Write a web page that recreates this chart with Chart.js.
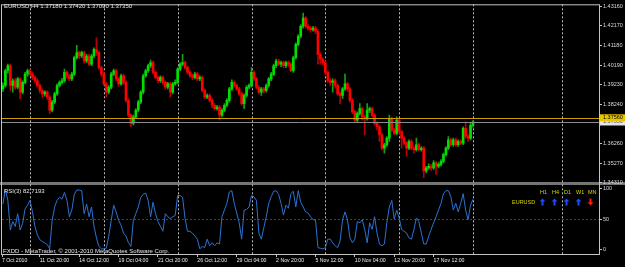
<!DOCTYPE html>
<html>
<head>
<meta charset="utf-8">
<script src="https://cdn.jsdelivr.net/npm/chart.js@4.4.0/dist/chart.umd.min.js"></script>
<style>
  html, body { margin: 0; padding: 0; background: #000; }
  #chart { display: block; }
</style>
</head>
<body>
<canvas id="chart" width="625" height="267"></canvas>
<script>
// EURUSD H4 candles, oldest first
const opens = [
  1.3901, 1.3918, 1.3992, 1.4017, 1.3918, 1.3942, 1.3909, 1.3951, 1.3885, 1.3934,
  1.3975, 1.3992, 1.3975, 1.3959, 1.3942, 1.3918, 1.3893, 1.3876, 1.3885, 1.3860,
  1.3794, 1.3835, 1.3876, 1.3918, 1.3934, 1.3942, 1.3984, 1.3967, 1.3951, 1.3975,
  1.4058, 1.4083, 1.4066, 1.4083, 1.4041, 1.4066, 1.4025, 1.4066, 1.4099, 1.4083,
  1.4008, 1.3975, 1.3926, 1.3885, 1.3909, 1.3975, 1.3992, 1.3951, 1.3926, 1.3967,
  1.3934, 1.3843, 1.3769, 1.3728, 1.3761, 1.3794, 1.3835, 1.3885, 1.3967, 1.3992,
  1.4017, 1.4033, 1.3984, 1.3959, 1.3942, 1.3959, 1.3934, 1.3909, 1.3926, 1.3885,
  1.3926, 1.3934, 1.4000, 1.4025, 1.4033, 1.4008, 1.3984, 1.3967, 1.3959, 1.3975,
  1.3951, 1.3959, 1.3893, 1.3860, 1.3868, 1.3843, 1.3819, 1.3802, 1.3810, 1.3769,
  1.3794, 1.3819, 1.3843, 1.3901, 1.3934, 1.3918, 1.3901, 1.3876, 1.3827, 1.3868,
  1.3909, 1.3918, 1.3984, 1.3951, 1.3909, 1.3885, 1.3901, 1.3893, 1.3918, 1.3951,
  1.3975, 1.4017, 1.4041, 1.4025, 1.4033, 1.4017, 1.4033, 1.4025, 1.3992, 1.4058,
  1.4124, 1.4165, 1.4215, 1.4256, 1.4215, 1.4206, 1.4198, 1.4206, 1.4190, 1.4074,
  1.4050, 1.4033, 1.3984, 1.3942, 1.3934, 1.3942, 1.3918, 1.3876, 1.3868, 1.3901,
  1.3926, 1.3901, 1.3843, 1.3786, 1.3744, 1.3777, 1.3802, 1.3761, 1.3753, 1.3794,
  1.3802, 1.3769, 1.3728, 1.3711, 1.3670, 1.3604, 1.3621, 1.3654, 1.3753, 1.3695,
  1.3678, 1.3744, 1.3687, 1.3654, 1.3629, 1.3604, 1.3637, 1.3604, 1.3596, 1.3621,
  1.3596, 1.3604, 1.3489, 1.3505, 1.3513, 1.3505, 1.3530, 1.3513, 1.3522, 1.3538,
  1.3571, 1.3604, 1.3645, 1.3621, 1.3645, 1.3621, 1.3637, 1.3629, 1.3703, 1.3662,
  1.3654, 1.37180
];
const highs = [
  1.3931, 1.4000, 1.4025, 1.4025, 1.3951, 1.3954, 1.3959, 1.3957, 1.3942, 1.3984,
  1.4000, 1.4000, 1.3984, 1.3967, 1.3951, 1.3926, 1.3901, 1.3893, 1.3891, 1.3868,
  1.3843, 1.3885, 1.3926, 1.3942, 1.3954, 1.4000, 1.3992, 1.3975, 1.3984, 1.4066,
  1.4119, 1.4091, 1.4091, 1.4091, 1.4074, 1.4074, 1.4074, 1.4107, 1.4157, 1.4091,
  1.4017, 1.3984, 1.3934, 1.3918, 1.3984, 1.4000, 1.4000, 1.3959, 1.3975, 1.3975,
  1.3942, 1.3852, 1.3777, 1.3769, 1.3802, 1.3843, 1.3893, 1.3975, 1.4000, 1.4025,
  1.4046, 1.4041, 1.3992, 1.3967, 1.3967, 1.3967, 1.3942, 1.3934, 1.3934, 1.3934,
  1.3947, 1.4008, 1.4033, 1.4074, 1.4041, 1.4017, 1.3992, 1.3975, 1.3984, 1.3984,
  1.3967, 1.3967, 1.3901, 1.3876, 1.3876, 1.3852, 1.3827, 1.3819, 1.3819, 1.3802,
  1.3827, 1.3852, 1.3909, 1.3947, 1.3942, 1.3926, 1.3909, 1.3885, 1.3876, 1.3918,
  1.3926, 1.4008, 1.3992, 1.3959, 1.3918, 1.3909, 1.3909, 1.3926, 1.3959, 1.3984,
  1.4025, 1.4050, 1.4050, 1.4041, 1.4041, 1.4041, 1.4041, 1.4033, 1.4066, 1.4132,
  1.4173, 1.4223, 1.4281, 1.4264, 1.4223, 1.4215, 1.4215, 1.4215, 1.4198, 1.4083,
  1.4058, 1.4041, 1.3992, 1.3951, 1.3951, 1.3951, 1.3926, 1.3885, 1.3909, 1.3975,
  1.3934, 1.3909, 1.3852, 1.3794, 1.3786, 1.3827, 1.3810, 1.3769, 1.3827, 1.3810,
  1.3810, 1.3777, 1.3736, 1.3720, 1.3678, 1.3629, 1.3662, 1.3769, 1.3761, 1.3703,
  1.3761, 1.3753, 1.3695, 1.3662, 1.3637, 1.3645, 1.3645, 1.3612, 1.3654, 1.3629,
  1.3612, 1.3612, 1.3513, 1.3525, 1.3522, 1.3541, 1.3538, 1.3531, 1.3546, 1.3579,
  1.3612, 1.3662, 1.3654, 1.3654, 1.3654, 1.3645, 1.3645, 1.3711, 1.3736, 1.3670,
  1.3728, 1.37420
];
const lows = [
  1.3888, 1.3909, 1.3980, 1.3893, 1.3885, 1.3898, 1.3901, 1.3852, 1.3876, 1.3926,
  1.3964, 1.3967, 1.3947, 1.3931, 1.3909, 1.3881, 1.3860, 1.3865, 1.3848, 1.3777,
  1.3786, 1.3827, 1.3868, 1.3909, 1.3926, 1.3934, 1.3954, 1.3941, 1.3942, 1.3967,
  1.4050, 1.4053, 1.4058, 1.4030, 1.4033, 1.4017, 1.4017, 1.4058, 1.4069, 1.4000,
  1.3964, 1.3918, 1.3860, 1.3876, 1.3901, 1.3967, 1.3941, 1.3914, 1.3918, 1.3924,
  1.3835, 1.3761, 1.3711, 1.3720, 1.3753, 1.3786, 1.3827, 1.3876, 1.3959, 1.3984,
  1.4008, 1.3975, 1.3951, 1.3931, 1.3934, 1.3924, 1.3898, 1.3901, 1.3860, 1.3876,
  1.3918, 1.3926, 1.3992, 1.4017, 1.4000, 1.3975, 1.3959, 1.3947, 1.3951, 1.3942,
  1.3942, 1.3885, 1.3852, 1.3852, 1.3835, 1.3805, 1.3794, 1.3794, 1.3744, 1.3761,
  1.3786, 1.3810, 1.3835, 1.3893, 1.3909, 1.3893, 1.3868, 1.3819, 1.3802, 1.3860,
  1.3901, 1.3909, 1.3942, 1.3901, 1.3876, 1.3868, 1.3881, 1.3885, 1.3909, 1.3942,
  1.3967, 1.4008, 1.4017, 1.4013, 1.4007, 1.4008, 1.4013, 1.3987, 1.3984, 1.4050,
  1.4116, 1.4157, 1.4206, 1.4206, 1.4195, 1.4185, 1.4190, 1.4178, 1.4025, 1.4025,
  1.4023, 1.3975, 1.3934, 1.3918, 1.3885, 1.3904, 1.3868, 1.3827, 1.3852, 1.3893,
  1.3888, 1.3835, 1.3777, 1.3736, 1.3736, 1.3769, 1.3744, 1.3670, 1.3744, 1.3782,
  1.3761, 1.3720, 1.3695, 1.3637, 1.3596, 1.3579, 1.3612, 1.3637, 1.3687, 1.3670,
  1.3670, 1.3678, 1.3604, 1.3621, 1.3563, 1.3596, 1.3596, 1.3579, 1.3588, 1.3588,
  1.3588, 1.3456, 1.3480, 1.3497, 1.3492, 1.3497, 1.3472, 1.3505, 1.3513, 1.3530,
  1.3563, 1.3596, 1.3612, 1.3612, 1.3612, 1.3612, 1.3621, 1.3621, 1.3654, 1.3637,
  1.3645, 1.37090
];
const closes = [
  1.3918, 1.3992, 1.4017, 1.3918, 1.3942, 1.3909, 1.3951, 1.3885, 1.3934, 1.3975,
  1.3992, 1.3975, 1.3959, 1.3942, 1.3918, 1.3893, 1.3876, 1.3885, 1.3860, 1.3794,
  1.3835, 1.3876, 1.3918, 1.3934, 1.3942, 1.3984, 1.3967, 1.3951, 1.3975, 1.4058,
  1.4083, 1.4066, 1.4083, 1.4041, 1.4066, 1.4025, 1.4066, 1.4099, 1.4083, 1.4008,
  1.3975, 1.3926, 1.3885, 1.3909, 1.3975, 1.3992, 1.3951, 1.3926, 1.3967, 1.3934,
  1.3843, 1.3769, 1.3728, 1.3761, 1.3794, 1.3835, 1.3885, 1.3967, 1.3992, 1.4017,
  1.4033, 1.3984, 1.3959, 1.3942, 1.3959, 1.3934, 1.3909, 1.3926, 1.3885, 1.3926,
  1.3934, 1.4000, 1.4025, 1.4033, 1.4008, 1.3984, 1.3967, 1.3959, 1.3975, 1.3951,
  1.3959, 1.3893, 1.3860, 1.3868, 1.3843, 1.3819, 1.3802, 1.3810, 1.3769, 1.3794,
  1.3819, 1.3843, 1.3901, 1.3934, 1.3918, 1.3901, 1.3876, 1.3827, 1.3868, 1.3909,
  1.3918, 1.3984, 1.3951, 1.3909, 1.3885, 1.3901, 1.3893, 1.3918, 1.3951, 1.3975,
  1.4017, 1.4041, 1.4025, 1.4033, 1.4017, 1.4033, 1.4025, 1.3992, 1.4058, 1.4124,
  1.4165, 1.4215, 1.4256, 1.4215, 1.4206, 1.4198, 1.4206, 1.4190, 1.4074, 1.4050,
  1.4033, 1.3984, 1.3942, 1.3934, 1.3942, 1.3918, 1.3876, 1.3868, 1.3901, 1.3926,
  1.3901, 1.3843, 1.3786, 1.3744, 1.3777, 1.3802, 1.3761, 1.3753, 1.3794, 1.3802,
  1.3769, 1.3728, 1.3711, 1.3670, 1.3604, 1.3621, 1.3654, 1.3753, 1.3695, 1.3678,
  1.3744, 1.3687, 1.3654, 1.3629, 1.3604, 1.3637, 1.3604, 1.3596, 1.3621, 1.3596,
  1.3604, 1.3489, 1.3505, 1.3513, 1.3505, 1.3530, 1.3513, 1.3522, 1.3538, 1.3571,
  1.3604, 1.3645, 1.3621, 1.3645, 1.3621, 1.3637, 1.3629, 1.3703, 1.3662, 1.3654,
  1.3718, 1.37350
];
// RSI(3) sub window
const rsi3 = [
  75, 99, 81, 32, 46, 38, 59, 32, 43, 67,
  73, 81, 62, 38, 24, 16, 13, 11, 8, 1,
  48, 70, 81, 86, 83, 94, 81, 54, 65, 91,
  98, 98, 97, 59, 75, 54, 70, 38, 19, 5,
  1, 1, 2, 22, 48, 73, 62, 48, 40, 27,
  22, 11, 5, 48, 59, 70, 86, 91, 93, 81,
  54, 78, 59, 46, 38, 30, 59, 54, 51, 54,
  56, 89, 89, 86, 51, 30, 30, 27, 22, 17,
  1, 5, 3, 17, 6, 11, 6, 11, 9, 54,
  65, 76, 95, 97, 76, 60, 44, 17, 65, 66,
  70, 89, 87, 81, 27, 17, 36, 54, 76, 87,
  96, 97, 91, 76, 57, 73, 68, 92, 96, 70,
  97, 78, 70, 62, 60, 54, 49, 49, 3, 2,
  1, 3, 17, 17, 11, 6, 3, 14, 49, 62,
  49, 19, 11, 17, 46, 44, 49, 33, 11, 44,
  33, 54, 27, 9, 6, 9, 44, 70, 81, 50,
  65, 52, 33, 30, 27, 19, 17, 33, 52, 46,
  27, 9, 9, 22, 33, 44, 54, 65, 76, 92,
  97, 97, 87, 65, 76, 62, 76, 92, 65, 49,
  73, 82.7193
];

const priceTicks = [1.43160, 1.42170, 1.41180, 1.40190, 1.39230, 1.38240, 1.36260, 1.35270, 1.34310];
const rsiTicks = [100, 50, 0];
const timeLabels = ['7 Oct 2010', '11 Oct 20:00', '14 Oct 12:00', '19 Oct 04:00', '21 Oct 20:00',
  '26 Oct 12:00', '29 Oct 04:00', '2 Nov 20:00', '5 Nov 12:00', '10 Nov 04:00', '12 Nov 20:00', '17 Nov 12:00'];
const timeBars = [-0.38, 15, 31, 47, 63, 79, 95, 111, 127, 143, 159, 175];
const gridBars = [11, 41, 71, 101, 131, 161, 191, 227];
const lineLevel = 1.37560;
const rsiLevel = 50;
const tfNames = ['H1', 'H4', 'D1', 'W1', 'MN'];
const tfUp = [true, true, true, true, false];

const last = closes.length - 1;
const isUp = i => closes[i] >= opens[i];
const FONT = '"Liberation Sans", Arial, sans-serif';

function arrow(ctx, cx, cy, up, color) {
  const d = up ? -1 : 1;
  ctx.fillStyle = color;
  ctx.beginPath();
  ctx.moveTo(cx, cy + d * 3.5);
  ctx.lineTo(cx + 3, cy + d * 0.3);
  ctx.lineTo(cx + 1, cy + d * 0.3);
  ctx.lineTo(cx + 1, cy - d * 3.5);
  ctx.lineTo(cx - 1, cy - d * 3.5);
  ctx.lineTo(cx - 1, cy + d * 0.3);
  ctx.lineTo(cx - 3, cy + d * 0.3);
  ctx.closePath();
  ctx.fill();
}

// terminal look: background, separators, grid, lines and labels
const terminal = {
  id: 'terminal',
  beforeDraw(chart) {
    const { ctx, width, height } = chart;
    ctx.save();
    ctx.fillStyle = '#000';
    ctx.fillRect(0, 0, width, height);
    ctx.fillStyle = '#747474';
    ctx.fillRect(0, Math.round(chart.scales.y.bottom) - 2, width, 3);
    ctx.restore();
  },
  beforeDatasetsDraw(chart) {
    const { ctx, chartArea: a, scales } = chart;
    ctx.save();
    ctx.lineWidth = 1;
    ctx.setLineDash([2, 2]);
    ctx.strokeStyle = '#b8b8b8';
    gridBars.forEach(b => {
      const px = Math.round(scales.x.getPixelForValue(b)) + 0.5;
      ctx.beginPath();
      ctx.moveTo(px, a.top);
      ctx.lineTo(px, a.bottom);
      ctx.stroke();
    });
    ctx.strokeStyle = '#a000b4';
    const py = Math.round(scales.rsi.getPixelForValue(rsiLevel)) + 0.5;
    ctx.beginPath();
    ctx.moveTo(a.left, py);
    ctx.lineTo(a.right, py);
    ctx.stroke();
    ctx.restore();
  },
  afterDatasetsDraw(chart) {
    const { ctx, chartArea: a, scales: { y } } = chart;
    ctx.save();
    ctx.lineWidth = 1;
    const yl = Math.round(y.getPixelForValue(lineLevel)) + 0.5;
    ctx.strokeStyle = '#c8a000';
    ctx.beginPath(); ctx.moveTo(a.left, yl); ctx.lineTo(a.right, yl); ctx.stroke();
    const yb = Math.round(y.getPixelForValue(closes[last])) + 0.5;
    ctx.strokeStyle = '#8c8c8c';
    ctx.beginPath(); ctx.moveTo(a.left, yb); ctx.lineTo(a.right, yb); ctx.stroke();
    ctx.restore();
  },
  afterDraw(chart) {
    const { ctx, chartArea: a, scales: { y, rsi } } = chart;
    ctx.save();
    // frame
    ctx.strokeStyle = '#c4c4c4';
    ctx.lineWidth = 1;
    ctx.strokeRect(a.left - 0.5, a.top + 0.5, a.right - a.left + 1, a.bottom - a.top);

    // price labels on the right
    ctx.font = '5.5px ' + FONT;
    ctx.textBaseline = 'middle';
    const yb = y.getPixelForValue(closes[last]);
    ctx.fillStyle = '#e4e4e4';
    ctx.fillRect(a.right + 1, yb - 3.5, 26, 7);
    ctx.fillStyle = '#555';
    ctx.fillText(closes[last].toFixed(5), a.right + 4, yb);
    const yl = y.getPixelForValue(lineLevel);
    ctx.fillStyle = '#e8c400';
    ctx.fillRect(a.right + 1, yl - 3.5, 26, 7);
    ctx.fillStyle = '#000';
    ctx.fillText(lineLevel.toFixed(5), a.right + 4, yl);

    // window captions
    ctx.font = '6px ' + FONT;
    ctx.fillStyle = '#e6e6e6';
    ctx.fillText('EURUSD,H4 ' + [opens[last], highs[last], lows[last], closes[last]].map(v => v.toFixed(5)).join(' '), 4, 6);
    ctx.fillText('RSI(3) ' + rsi3[last].toFixed(4), 4, rsi.top + 6.5);
    ctx.fillText('FXDD - MetaTrader, \u00a9 2001-2010 MetaQuotes Software Corp.', 3, a.bottom - 3);

    // trend panel
    const tfX = [540, 552, 564, 576, 588];
    ctx.font = '5.5px ' + FONT;
    ctx.fillStyle = '#d6d600';
    tfNames.forEach((n, i) => ctx.fillText(n, tfX[i], rsi.top + 8));
    ctx.fillText('EURUSD', 512, rsi.top + 18);
    tfNames.forEach((n, i) => arrow(ctx, tfX[i] + 2.5, rsi.top + 17.5, tfUp[i], tfUp[i] ? '#1a4cff' : '#ff1a1a'));
    ctx.restore();
  }
};

const bodies = closes.map((c, i) => ({ x: i, y: [opens[i], c] }));
const wicks = highs.map((h, i) => ({ x: i, y: [lows[i], h] }));
const rsiPoints = rsi3.map((v, i) => ({ x: i, y: v }));

const axisFont = { family: FONT, size: 5.5 };

new Chart(document.getElementById('chart'), {
  type: 'bar',
  data: {
    datasets: [
      {
        label: 'body',
        data: bodies,
        backgroundColor: c => isUp(c.dataIndex) ? '#00e000' : '#ff0000',
        barThickness: 2,
        minBarLength: 1,
        grouped: false,
        yAxisID: 'y'
      },
      {
        label: 'wick',
        data: wicks,
        backgroundColor: c => isUp(c.dataIndex) ? '#14a014' : '#b80000',
        barThickness: 1,
        grouped: false,
        yAxisID: 'y'
      },
      {
        type: 'line',
        label: 'RSI(3)',
        data: rsiPoints,
        borderColor: '#2c72d2',
        borderWidth: 1,
        pointRadius: 0,
        tension: 0,
        yAxisID: 'rsi'
      }
    ]
  },
  options: {
    responsive: false,
    animation: false,
    events: [],
    layout: { padding: { left: 2, top: 1, right: 0, bottom: 0 } },
    plugins: { legend: { display: false }, tooltip: { enabled: false } },
    scales: {
      x: {
        type: 'linear',
        min: -0.38,
        max: 242.2,
        offset: false,
        border: { display: false },
        grid: { offset: false, drawOnChartArea: false, tickLength: 3, color: '#c4c4c4' },
        afterBuildTicks: s => { s.ticks = timeBars.map(v => ({ value: v })); },
        afterFit: s => { s.height = 13; },
        ticks: {
          align: 'start',
          autoSkip: false,
          maxRotation: 0,
          padding: 0,
          color: '#eeeeee',
          font: { family: FONT, size: 5.2 },
          callback: (v, i) => timeLabels[i]
        }
      },
      y: {
        type: 'linear',
        position: 'right',
        stack: 'windows',
        stackWeight: 182.5,
        min: 1.34218,
        max: 1.43253,
        border: { display: false },
        grid: { drawOnChartArea: false, tickLength: 3, color: '#c4c4c4' },
        afterBuildTicks: s => { s.ticks = priceTicks.map(v => ({ value: v })); },
        afterFit: s => { s.width = 26; },
        ticks: { padding: 1, color: '#dcdcdc', font: axisFont, callback: v => v.toFixed(5) }
      },
      rsi: {
        type: 'linear',
        position: 'right',
        stack: 'windows',
        stackWeight: 70.5,
        min: -7.5,
        max: 107.3,
        border: { display: false },
        grid: { drawOnChartArea: false, tickLength: 3, color: '#c4c4c4' },
        afterBuildTicks: s => { s.ticks = rsiTicks.map(v => ({ value: v })); },
        afterFit: s => { s.width = 26; },
        ticks: { padding: 1, color: '#dcdcdc', font: axisFont, callback: v => String(v) }
      }
    }
  },
  plugins: [terminal]
});
</script>
</body>
</html>
